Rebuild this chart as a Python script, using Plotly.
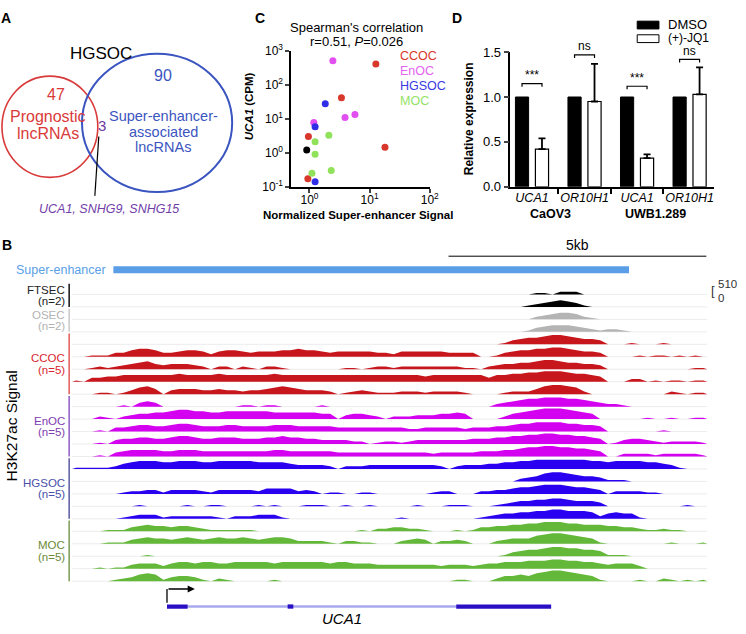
import plotly.graph_objects as go

W, H = 746, 634
FONT = "Liberation Sans, Arial, Helvetica, sans-serif"


def px(x):
    return x / W


def py(y):
    return 1 - y / H


# ---------------- Panel A data (Venn) ----------------
VENN_TITLE = "HGSOC"
PROGNOSTIC_ONLY = 47
SE_ONLY = 90
OVERLAP = 3
OVERLAP_GENES = "UCA1, SNHG9, SNHG15"

# ---------------- Panel C data (scatter) ----------------
C_GROUPS = ["CCOC", "EnOC", "HGSOC", "MOC"]
CCOC_SE = [12.7, 3.4, 0.96, 18.0, 0.94]
CCOC_CPM = [420, 42, 3.0, 1.45, 0.17]
ENOC_SE = [2.45, 5.7, 3.9, 1.18]
ENOC_CPM = [520, 13.5, 11.0, 7.8]
HGSOC_SE = [1.83, 1.24, 1.24]
HGSOC_CPM = [28, 5.9, 0.14]
MOC_SE = [2.1, 1.24, 1.24, 2.3, 1.1]
MOC_CPM = [3.3, 2.1, 0.9, 0.3, 0.25]
OTHER_SE = [0.9]
OTHER_CPM = [1.2]
C_XTICKS = [1, 10, 100]
C_YTICKS = [0.1, 1, 10, 100, 1000]

# ---------------- Panel D data (bars) ----------------
D_GENES = ["UCA1", "OR10H1", "UCA1", "OR10H1"]
D_CELLS = ["CaOV3", "UWB1.289"]
DMSO = [1.0, 1.0, 1.0, 1.0]
JQ1 = [0.42, 0.95, 0.32, 1.03]
JQ1_ERR = [0.12, 0.42, 0.04, 0.30]
SIG_LABELS = ["***", "ns", "***", "ns"]
SIG_Y = [1.15, 1.47, 1.12, 1.42]
D_YTICKS = [0.0, 0.5, 1.0, 1.5]

# ---------------- Panel B data (H3K27ac tracks) ----------------
BIN_KB = 0.154          # genomic width of one bin (kb)
SE_START, SE_END = 0.80, 10.80
GENE_START, GENE_END = 1.84, 9.29
GENE_EXONS = [(1.84, 2.24), (4.18, 4.29), (7.45, 9.29)]
SCALE_START, SCALE_KB = 7.30, 5
SIGNAL_MAX = 510

FTSEC_TRACKS = [
    "0000000000 0000000000 0000000000 0000000000 0000000000 0000000011 0222000000 0000000000",
    "0000000000 0000000000 0000000000 0000000000 0000000000 0000000123 4543100000 0000000000",
]
OSEC_TRACKS = [
    "0000000000 0000000000 0000000000 0000000000 0000000000 0000000023 4554210000 0000000000",
    "0000000000 0000000000 0000000000 0000000000 0000000000 0000000134 5554321221 0000000000",
]
CCOC_TRACKS = [
    "0000000000 0000000000 0000000000 0000000000 0000000000 0000134556 7765443000 1000100000",
    "0011133566 5334554245 5434445565 5434444433 2444444333 3001345566 7765443000 0101101010",
    "0012123456 4344432022 0210221000 0000110122 1222222221 1023445567 7655443000 0000000011",
    "1033445555 5556555565 5555565555 5555555555 5555455555 5535566778 8876654000 2201011011",
    "0001101356 4034443343 3233456543 3320123211 1222122221 0000122246 7765200000 0000021011",
]
ENOC_TRACKS = [
    "0000001034 3000000000 0110110000 0100000000 0000000000 0002345667 7766543221 0000000000",
    "0002102344 5567766556 6666655555 5440344320 2223334454 0000245678 8876540000 0010010011",
    "0001033455 4456654445 5444455544 4443333333 3322333332 3334456677 7766554000 0000100000",
    "0001034455 4456654455 5444556554 4333322012 2123333333 4445566778 8776654013 4432122221",
    "0001034555 5445554444 4444455444 4443333333 3333323333 3444556778 8776654002 2221222221",
]
HGSOC_TRACKS = [
    "1111124566 6556665566 6665555433 3320222333 3333332023 3344556677 7777766566 6655431000",
    "0000000000 0000000000 0000000000 0000000000 0000000000 0000002346 7765443111 0000000000",
    "0000001223 3133332133 3332444423 2011001100 0000012200 0223345567 7765543022 2211000000",
    "0000000010 0000100110 0001010001 1100100100 0001000111 0001234455 6654443000 0000000100",
    "0000001233 3122222210 2223331000 0000000000 0100000000 0123445566 7766652454 4100000000",
]
MOC_TRACKS = [
    "0000111345 4434432111 1110000000 0000001022 3322100010 1334455667 7766555443 3211211000",
    "0000111345 4434543454 4543455422 2210221100 0234302232 0002344467 8876541000 0000010001",
    "0000000001 0000000000 0000000000 0000000000 0000000000 0000134556 7766554111 0000000000",
    "0001011344 4245545544 5555545555 5545544433 3333332333 2344555666 7766554344 4200000000",
    "0000012356 5134431021 0000010000 0000000000 0000000011 0002445467 8876541000 0100210101",
]
B_GROUPS = ["FTSEC", "OSEC", "CCOC", "EnOC", "HGSOC", "MOC"]
B_GROUP_N = [2, 2, 5, 5, 5, 5]
B_TRACKS = [FTSEC_TRACKS, OSEC_TRACKS, CCOC_TRACKS, ENOC_TRACKS, HGSOC_TRACKS, MOC_TRACKS]

# ---------------- styles ----------------
C_COLORS = {"CCOC": "#d8372b", "EnOC": "#e14ff0", "HGSOC": "#2f2de8", "MOC": "#8fe25a"}
C_TEXT_COLORS = {"CCOC": "#d8372b", "EnOC": "#e463f0", "HGSOC": "#3a3ae3", "MOC": "#93e263"}
TRACK_FILL = ["#000000", "#b4b4b4", "#c8161d", "#d400f0", "#2a00f0", "#63b83a"]
LABEL_COL = ["#222222", "#b3b3b3", "#d9262e", "#7d3bb0", "#4a4fa8", "#6b8a3a"]
BAR_COL = ["#111111", "#c8c8c8", "#e05a5a", "#8e5cc8", "#5a5aa0", "#7a9a55"]

TRACK_TOP_PX = 293.3
TRACK_STEP_PX = 12.81
TRACK_FULL_PX = 12.2

fig = go.Figure()
annotations = []
shapes = []


def ann(x, y, text, size=12, color="black", xanchor="center", yanchor="middle",
        xref="paper", yref="paper", **kw):
    annotations.append(dict(
        x=px(x) if xref == "paper" else x,
        y=py(y) if yref == "paper" else y,
        xref=xref, yref=yref, text=text, showarrow=False,
        font=dict(size=size, color=color, family=FONT),
        xanchor=xanchor, yanchor=yanchor, **kw))


# ================= Panel A =================
ann(6, 9, "<b>A</b>", 14)
shapes.append(dict(type="circle", xref="paper", yref="paper", x0=px(2), x1=px(99),
                   y0=py(173), y1=py(69), line=dict(color="#d93a3a", width=1.6)))
shapes.append(dict(type="circle", xref="paper", yref="paper", x0=px(83), x1=px(235),
                   y0=py(188), y1=py(46), line=dict(color="#3b55c0", width=2)))
shapes.append(dict(type="line", xref="paper", yref="paper", x0=px(100), y0=py(131),
                   x1=px(96), y1=py(192), line=dict(color="black", width=1.2)))
ann(102, 46, VENN_TITLE, 17)
ann(57, 88, str(PROGNOSTIC_ONLY), 16, "#d93a3a")
ann(49, 110, "Prognostic", 16, "#d93a3a")
ann(49, 128, "lncRNAs", 16, "#d93a3a")
ann(165, 68, str(SE_ONLY), 16, "#3b55c0")
ann(165, 110, "Super-enhancer-", 14.5, "#3b55c0")
ann(165, 126, "associated", 14.5, "#3b55c0")
ann(165, 142, "lncRNAs", 14.5, "#3b55c0")
ann(103, 120, str(OVERLAP), 15, "#6a3aa0")
ann(110, 205, "<i>" + OVERLAP_GENES + "</i>", 12.5, "#7040a8")

# ================= Panel C =================
for g, xs, ys in [("CCOC", CCOC_SE, CCOC_CPM), ("EnOC", ENOC_SE, ENOC_CPM),
                  ("HGSOC", HGSOC_SE, HGSOC_CPM), ("MOC", MOC_SE, MOC_CPM)]:
    fig.add_trace(go.Scatter(x=xs, y=ys, mode="markers", xaxis="x", yaxis="y",
                             marker=dict(color=C_COLORS[g], size=7), showlegend=False))
fig.add_trace(go.Scatter(x=OTHER_SE, y=OTHER_CPM, mode="markers", xaxis="x", yaxis="y",
                         marker=dict(color="black", size=7), showlegend=False))


def pow_label(v):
    import math
    e = int(round(math.log10(v)))
    return "10<sup>%d</sup>" % e


ann(263, 9, "<b>C</b>", 14)
ann(361, 19, "Spearman's correlation", 13)
ann(361, 33, "r=0.51, <i>P</i>=0.026", 13)
for i, g in enumerate(C_GROUPS):
    ann(403, 48 + i * 15.5, g, 12.5, C_TEXT_COLORS[g], xanchor="left")
ann(252, 100, "<b><i>UCA1</i> (CPM)</b>", 11.5, textangle=-90)
ann(362, 212, "<b>Normalized Super-enhancer Signal</b>", 11.5)

# ================= Panel D =================
D_X = list(range(len(D_GENES)))
fig.add_trace(go.Bar(x=D_X, y=DMSO, name="DMSO", xaxis="x2", yaxis="y2",
                     marker=dict(color="black", line=dict(color="black", width=1)),
                     showlegend=False))
fig.add_trace(go.Bar(x=D_X, y=JQ1, name="(+)-JQ1", xaxis="x2", yaxis="y2",
                     marker=dict(color="white", line=dict(color="black", width=1.2)),
                     error_y=dict(type="data", array=JQ1_ERR, arrayminus=[0] * len(JQ1),
                                  symmetric=False, color="black", thickness=1.8, width=3.5),
                     showlegend=False))
BARGAP = 0.24
off = (1 - BARGAP) / 4
for i, (lab, yv) in enumerate(zip(SIG_LABELS, SIG_Y)):
    shapes.append(dict(type="path", xref="x2", yref="y2",
                       path="M %f %f L %f %f L %f %f L %f %f" % (
                           i - off, yv - 0.035, i - off, yv, i + off, yv, i + off, yv - 0.035),
                       line=dict(color="black", width=1.2)))
    ann(i, yv + (-0.005 if lab == "ns" else -0.01), lab, 12, xref="x2", yref="y2",
        yanchor="bottom")

ann(463, 9, "<b>D</b>", 14)
ann(475, 113, "<b>Relative expression</b>", 12, textangle=-90)
ann(557, 211, "<b>" + D_CELLS[0] + "</b>", 12.5)
ann(663, 211, "<b>" + D_CELLS[1] + "</b>", 12.5)
shapes.append(dict(type="rect", xref="paper", yref="paper", x0=px(645), x1=px(667),
                   y0=py(20.5), y1=py(12.5), fillcolor="black", line=dict(color="black", width=1)))
shapes.append(dict(type="rect", xref="paper", yref="paper", x0=px(645), x1=px(667),
                   y0=py(34.5), y1=py(26.5), fillcolor="white", line=dict(color="black", width=1)))
ann(674, 16, "DMSO", 13, xanchor="left")
ann(674, 29.5, "(+)-JQ1", 12, xanchor="left")

# ================= Panel B =================
def parse(s):
    return [int(c) for c in s.replace(" ", "")]


k = 0
for gi, (gname, n, tracks) in enumerate(zip(B_GROUPS, B_GROUP_N, B_TRACKS)):
    first = k
    for t in tracks:
        vals = parse(t)
        base = TRACK_TOP_PX + k * TRACK_STEP_PX
        nb = len(vals)
        fig.add_trace(go.Scatter(x=[0, nb * BIN_KB], y=[base, base], mode="lines",
                                 xaxis="x3", yaxis="y3", line=dict(color="#ececec", width=1),
                                 hoverinfo="skip", showlegend=False))
        xs = [0.0] + [(i + 0.5) * BIN_KB for i in range(nb)] + [nb * BIN_KB]
        ys = [base] + [base - v / 9.0 * TRACK_FULL_PX for v in vals] + [base]
        fig.add_trace(go.Scatter(x=xs, y=ys, mode="lines", fill="toself",
                                 fillcolor=TRACK_FILL[gi], xaxis="x3", yaxis="y3",
                                 line=dict(width=0, color=TRACK_FILL[gi]),
                                 hoverinfo="skip", showlegend=False))
        k += 1
    last = k - 1
    top = TRACK_TOP_PX + first * TRACK_STEP_PX - 11
    bot = TRACK_TOP_PX + last * TRACK_STEP_PX
    shapes.append(dict(type="line", xref="paper", yref="y3", x0=px(70), x1=px(70),
                       y0=top, y1=bot, line=dict(color=BAR_COL[gi], width=1.5)))
    mid = (top + bot) / 2
    ann(68, mid - 5.8, gname, 11.5, LABEL_COL[gi], xanchor="right", yref="y3")
    ann(68, mid + 5.8, "(n=%d)" % n, 11.5, LABEL_COL[gi], xanchor="right", yref="y3")

ann(7, 243, "<b>B</b>", 14)
ann(14, 268, "Super-enhancer", 12.5, "#5aa0e8", xanchor="left")
shapes.append(dict(type="line", xref="x3", yref="y3", x0=SE_START, x1=SE_END, y0=268, y1=268,
                   line=dict(color="#5b9ee8", width=7)))
shapes.append(dict(type="line", xref="x3", yref="y3", x0=SCALE_START, x1=SCALE_START + SCALE_KB,
                   y0=254, y1=254, line=dict(color="black", width=1)))
ann(SCALE_START + SCALE_KB / 2, 242, "%dkb" % SCALE_KB, 14, xref="x3", yref="y3")
ann(718, 289, "[", 13, "#333333", xanchor="left")
ann(725, 283, str(SIGNAL_MAX), 11.5, "#333333", xanchor="left")
ann(725, 297, "0", 11.5, "#333333", xanchor="left")
ann(12, 428, "H3K27ac Signal", 15.5, textangle=-90)

# gene model
shapes.append(dict(type="line", xref="x3", yref="y3", x0=GENE_START, x1=GENE_END, y0=614, y1=614,
                   line=dict(color="#a8a8ec", width=2.5)))
for a, b in GENE_EXONS:
    shapes.append(dict(type="rect", xref="x3", yref="y3", x0=a, x1=b, y0=611.8, y1=616.2,
                       fillcolor="#2a10c4", line=dict(width=0)))
shapes.append(dict(type="line", xref="x3", yref="y3", x0=GENE_START, x1=GENE_START,
                   y0=610, y1=596, line=dict(color="black", width=1.3)))
annotations.append(dict(x=GENE_START + 0.54, y=596, ax=GENE_START, ay=596,
                        xref="x3", yref="y3", axref="x3", ayref="y3", text="",
                        showarrow=True, arrowhead=2, arrowsize=1.1, arrowwidth=1.3,
                        arrowcolor="black"))
ann(346, 626, "<i>UCA1</i>", 15)

fig.update_layout(
    width=W, height=H, margin=dict(l=0, r=0, t=0, b=0),
    paper_bgcolor="white", plot_bgcolor="white",
    font=dict(family=FONT, color="black"),
    barmode="group", bargap=BARGAP, bargroupgap=0.34,
    xaxis=dict(type="log", range=[-0.3, 2], domain=[px(295), px(435)], anchor="y",
               showline=True, linewidth=2, linecolor="black", ticks="outside", ticklen=4,
               tickwidth=1.5, tickvals=C_XTICKS, ticktext=[pow_label(v) for v in C_XTICKS],
               ticklabelstandoff=-3,
               showgrid=False, zeroline=False, tickfont=dict(size=12)),
    yaxis=dict(type="log", range=[-1, 3], domain=[py(182.5), py(43.3)], anchor="x",
               showline=True, linewidth=2, linecolor="black", ticks="outside", ticklen=4,
               tickwidth=1.5, tickvals=C_YTICKS, ticktext=[pow_label(v) for v in C_YTICKS],
               showgrid=False, zeroline=False, tickfont=dict(size=12)),
    xaxis2=dict(range=[-0.41, 3.47], domain=[px(516.7), px(723)], anchor="y2",
                showline=True, linewidth=1.5, linecolor="black",
                tickvals=D_X, ticktext=["<i>%s</i>" % g for g in D_GENES], ticks="",
                ticklabelstandoff=-2,
                minor=dict(tickmode="array", tickvals=[0.5, 1.5, 2.5], ticks="outside",
                           ticklen=5, tickwidth=1.5, tickcolor="black"),
                showgrid=False, zeroline=False, tickfont=dict(size=12.5)),
    yaxis2=dict(range=[0, 1.5], domain=[py(182.7), py(44.3)], anchor="x2",
                showline=True, linewidth=1.5, linecolor="black", ticks="outside", ticklen=5,
                tickwidth=1.5, tickvals=D_YTICKS, tickformat=".1f",
                showgrid=False, zeroline=False, tickfont=dict(size=13)),
    xaxis3=dict(range=[0, 80 * BIN_KB], domain=[px(73), px(716)], anchor="y3",
                visible=False),
    yaxis3=dict(range=[634, 230], domain=[0, py(230)], anchor="x3", visible=False),
    annotations=annotations, shapes=shapes,
)

fig.write_html("out.html", config={"displayModeBar": False},
               post_script="document.body.style.margin='0px';document.body.style.overflow='hidden';")
